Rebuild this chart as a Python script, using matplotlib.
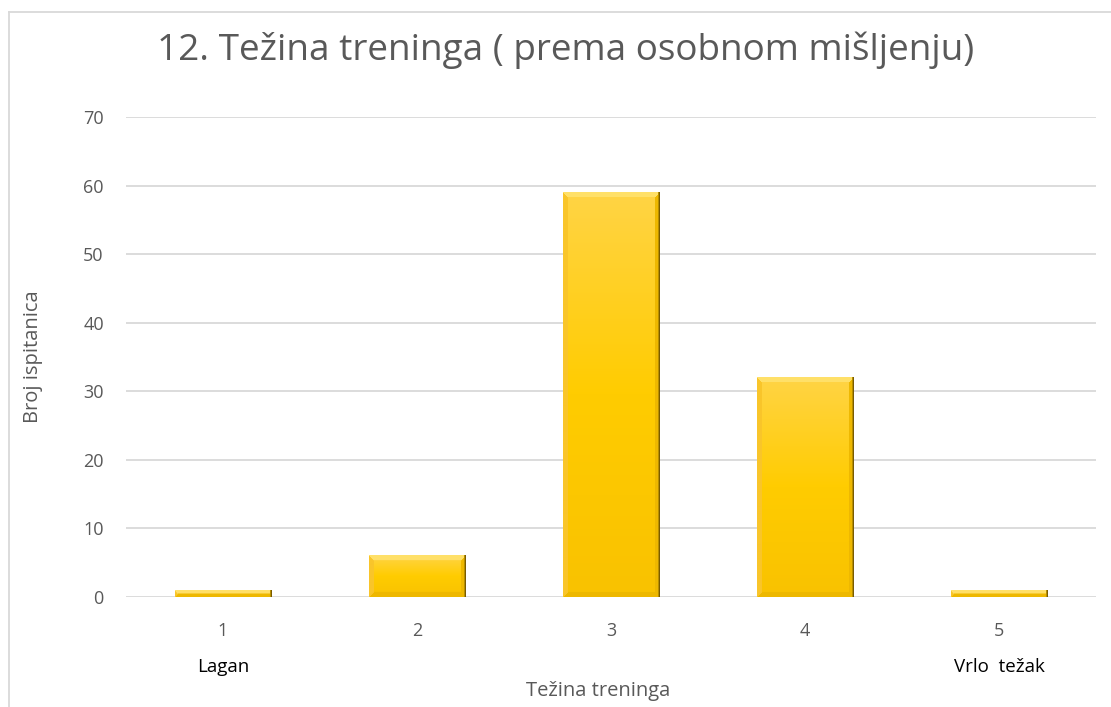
import matplotlib
matplotlib.use("Agg")
import matplotlib.pyplot as plt
import numpy as np
from matplotlib.colors import to_rgb

categories = [1, 2, 3, 4, 5]
counts = [1, 6, 59, 32, 1]
tick_labels = ["1", "2", "3", "4", "5"]
end_labels = {1: "Lagan", 5: "Vrlo  težak"}

TITLE = "12. Težina treninga ( prema osobnom mišljenju)"
XLABEL = "Težina treninga"
YLABEL = "Broj ispitanica"

plt.rcParams["font.family"] = ["Open Sans", "DejaVu Sans"]

W, H = 1111, 707
PX_PER_UNIT = 480 / 70
fig = plt.figure(figsize=(W / 100, H / 100), dpi=100)
ax = fig.add_axes([126 / W, 1 - 597 / H, 970 / W, 480 / H])

ax.set_xlim(0.5, 5.5)
ax.set_ylim(0, 70)
ax.set_yticks(range(0, 71, 10))
ax.set_xticks(categories)
ax.set_xticklabels(tick_labels)
ax.grid(axis="y", color="#D9D9D9", linewidth=1.3)
ax.set_axisbelow(True)
for s in ax.spines.values():
    s.set_visible(False)
ax.tick_params(axis="y", length=0, labelsize=13, colors="#595959", pad=16)
ax.tick_params(axis="x", length=0, labelsize=13, colors="#595959", pad=18)


def bevel_image(w_px, h_px, b=5):
    """Gold bar with a soft bevel, built pixel by pixel."""
    w_px, h_px = max(int(w_px), 2), max(int(h_px), 2)
    top = np.array(to_rgb("#FFD445"))
    mid = np.array(to_rgb("#FFCC00"))
    bot = np.array(to_rgb("#F9C200"))
    t = np.linspace(0, 1, h_px)[:, None, None]  # 0 at top
    face = np.where(t < 0.5, top + (mid - top) * (t / 0.5), mid + (bot - mid) * ((t - 0.5) / 0.5))
    img = np.broadcast_to(face, (h_px, w_px, 3)).copy()
    b = min(b, h_px // 2, w_px // 2)
    yy, xx = np.mgrid[0:h_px, 0:w_px]
    dl, dr, dt, db = xx, w_px - 1 - xx, yy, h_px - 1 - yy
    dmin = np.minimum(np.minimum(dl, dr), np.minimum(dt, db))
    edge = dmin < b
    light = np.array(to_rgb("#FFE068"))
    side = np.array(to_rgb("#F9C52A"))
    dark = np.array(to_rgb("#EEB800"))
    img[edge & (dt == dmin)] = light
    img[edge & (dl == dmin) & (dt != dmin)] = side
    img[edge & (dr == dmin) & (dt != dmin)] = dark
    img[edge & (db == dmin) & (dl != dmin) & (dr != dmin) & (dt != dmin)] = dark
    img[:, -1] = to_rgb("#7A5C00")
    img[:, -2] = to_rgb("#B89000")
    return img


width = 0.5
bars = ax.bar(categories, counts, width=width, color="none", edgecolor="none", zorder=2)
for bar in bars:
    x0, y0 = bar.get_x(), bar.get_y()
    w, h = bar.get_width(), bar.get_height()
    img = bevel_image(w * 194, h * PX_PER_UNIT)
    ax.imshow(img, aspect="auto", extent=(x0, x0 + w, y0, y0 + h),
              origin="upper", zorder=2, interpolation="bilinear")

ax.set_xlim(0.5, 5.5)
ax.set_ylim(0, 70)

for cat, lab in end_labels.items():
    fig.text((126 + (cat - 0.5) * 194) / W, 1 - 667 / H, lab,
             ha="center", va="center", fontsize=13.5, color="black")

fig.text(598 / W, 1 - 691 / H, XLABEL, ha="center", va="center",
         fontsize=14.5, color="#595959")
fig.text(33 / W, 1 - 357 / H, YLABEL, ha="center", va="center", rotation=90,
         fontsize=14.5, color="#595959")
fig.text(566 / W, 1 - 50 / H, TITLE, ha="center", va="center",
         fontsize=26.6, color="#595959")

# chart area border (only top and left are visible in the crop)
fig.add_artist(plt.Line2D([9 / W, 1], [1 - 12 / H, 1 - 12 / H], color="#D9D9D9", linewidth=1.3))
fig.add_artist(plt.Line2D([9 / W, 9 / W], [0, 1 - 12 / H], color="#D9D9D9", linewidth=1.3))

fig.savefig("out.png", dpi=100)
